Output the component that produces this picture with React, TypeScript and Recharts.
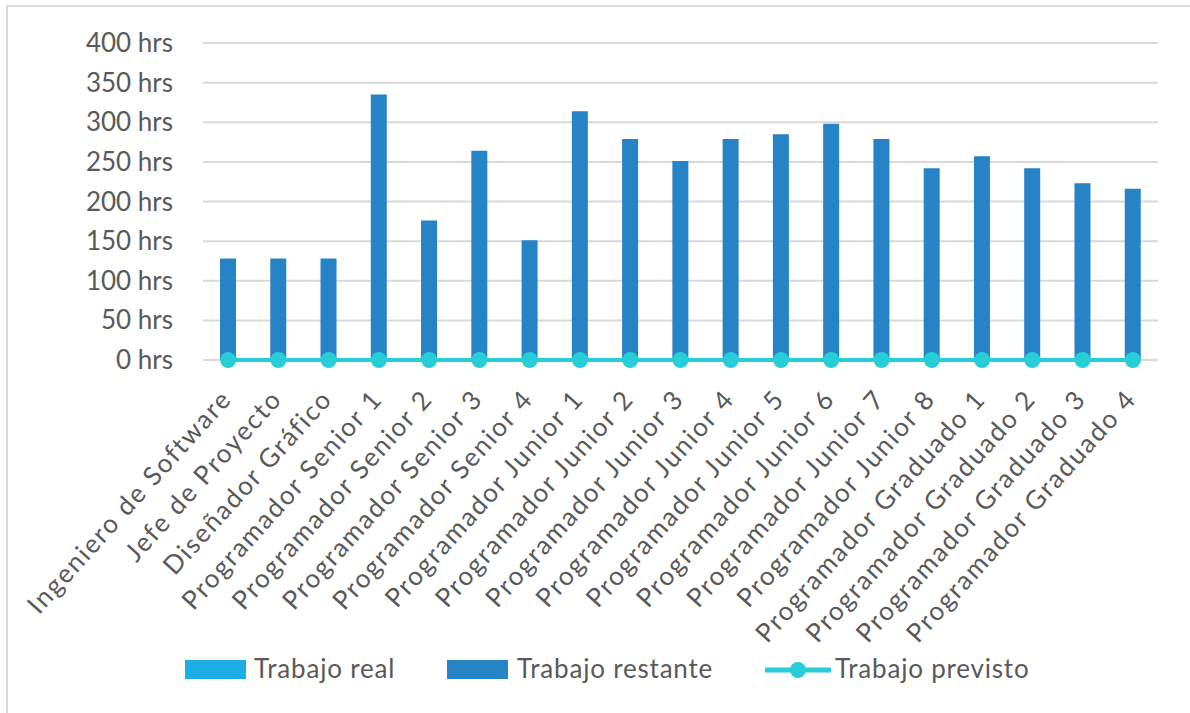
import { ComposedChart, Bar, Line, XAxis, YAxis, CartesianGrid } from "recharts";

// categorias y series
const roles = [
  "Ingeniero de Software",
  "Jefe de Proyecto",
  "Diseñador Gráfico",
  "Programador Senior 1",
  "Programador Senior 2",
  "Programador Senior 3",
  "Programador Senior 4",
  "Programador Junior 1",
  "Programador Junior 2",
  "Programador Junior 3",
  "Programador Junior 4",
  "Programador Junior 5",
  "Programador Junior 6",
  "Programador Junior 7",
  "Programador Junior 8",
  "Programador Graduado 1",
  "Programador Graduado 2",
  "Programador Graduado 3",
  "Programador Graduado 4",
];
const trabajoReal = [0, 0, 0, 0, 0, 0, 0, 0, 0, 0, 0, 0, 0, 0, 0, 0, 0, 0, 0];
const trabajoRestante = [128, 128, 128, 335, 176, 264, 151, 314, 279, 251, 279, 285, 298, 279, 242, 257, 242, 223, 216];
const trabajoPrevisto = [0, 0, 0, 0, 0, 0, 0, 0, 0, 0, 0, 0, 0, 0, 0, 0, 0, 0, 0];
const yTicks = [0, 50, 100, 150, 200, 250, 300, 350, 400];

const C_REAL = "#1CADE4";
const C_REST = "#2683C6";
const C_PREV = "#27CED7";
const TXT = "#595959";
const FONT = "Lato, 'Open Sans', sans-serif";

const data = roles.map((name, i) => ({
  name,
  real: trabajoReal[i],
  restante: trabajoRestante[i],
  previsto: trabajoPrevisto[i],
}));

const XTick = (props: any) => {
  const { x, y, payload } = props;
  return (
    <g transform={`translate(${x + 5},${y + 40})`}>
      <text
        transform="rotate(-48)"
        textAnchor="end"
        fill={TXT}
        fontSize={26}
        letterSpacing={1.85}
        fontFamily={FONT}
      >
        {payload.value}
      </text>
    </g>
  );
};

const YTick = (props: any) => {
  const { y, payload } = props;
  return (
    <text x={173} y={y} dy={9} textAnchor="end" fill={TXT} fontSize={26} fontFamily={FONT}>
      {payload.value} hrs
    </text>
  );
};

const legendItems = [
  { label: "Trabajo real", color: C_REAL, kind: "rect", x: 185, tx: 254 },
  { label: "Trabajo restante", color: C_REST, kind: "rect", x: 447, tx: 517 },
  { label: "Trabajo previsto", color: C_PREV, kind: "line", x: 765, tx: 835 },
];

const App = () => {
  return (
    <div
      style={{
        position: "absolute",
        left: 0,
        top: 0,
        width: 1190,
        height: 713,
        background: "#fff",
        overflow: "hidden",
        fontFamily: FONT,
      }}
    >
      <div
        style={{
          position: "absolute",
          left: 6,
          top: 5,
          width: 1200,
          height: 720,
          borderTop: "2px solid #d9d9d9",
          borderLeft: "2px solid #d9d9d9",
        }}
      />
      <div style={{ position: "absolute", left: 0, top: 0 }}>
        <ComposedChart
          width={1190}
          height={713}
          data={data}
          margin={{ top: 43, right: 32, left: 0, bottom: 0 }}
        >
          <CartesianGrid vertical={false} stroke="#d9d9d9" strokeWidth={2} />
          <XAxis
            dataKey="name"
            interval={0}
            tickLine={false}
            axisLine={false}
            tickSize={0}
            tickMargin={0}
            height={353}
            tick={<XTick />}
          />
          <YAxis
            width={203}
            domain={[0, 400]}
            ticks={yTicks}
            tickLine={false}
            axisLine={false}
            tick={<YTick />}
          />
          <Bar dataKey="real" stackId="a" fill={C_REAL} barSize={16} isAnimationActive={false} />
          <Bar dataKey="restante" stackId="a" fill={C_REST} barSize={16} isAnimationActive={false} />
          <Line
            dataKey="previsto"
            stroke={C_PREV}
            strokeWidth={4}
            dot={{ r: 8, fill: C_PREV, stroke: C_PREV, strokeWidth: 0 }}
            isAnimationActive={false}
          />
        </ComposedChart>
      </div>
      {legendItems.map((it) => (
        <div key={it.label}>
          {it.kind === "rect" ? (
            <div
              style={{
                position: "absolute",
                left: it.x,
                top: 660,
                width: 61,
                height: 19,
                background: it.color,
              }}
            />
          ) : (
            <svg style={{ position: "absolute", left: it.x, top: 659 }} width={66} height={22}>
              <line x1={0} y1={11} x2={66} y2={11} stroke={it.color} strokeWidth={5} />
              <circle cx={33} cy={11} r={8} fill={it.color} />
            </svg>
          )}
          <div
            style={{
              position: "absolute",
              left: it.tx,
              top: 652,
              fontSize: 26,
              letterSpacing: 0.8,
              color: TXT,
              lineHeight: "32px",
              whiteSpace: "nowrap",
            }}
          >
            {it.label}
          </div>
        </div>
      ))}
    </div>
  );
};

export default App;
